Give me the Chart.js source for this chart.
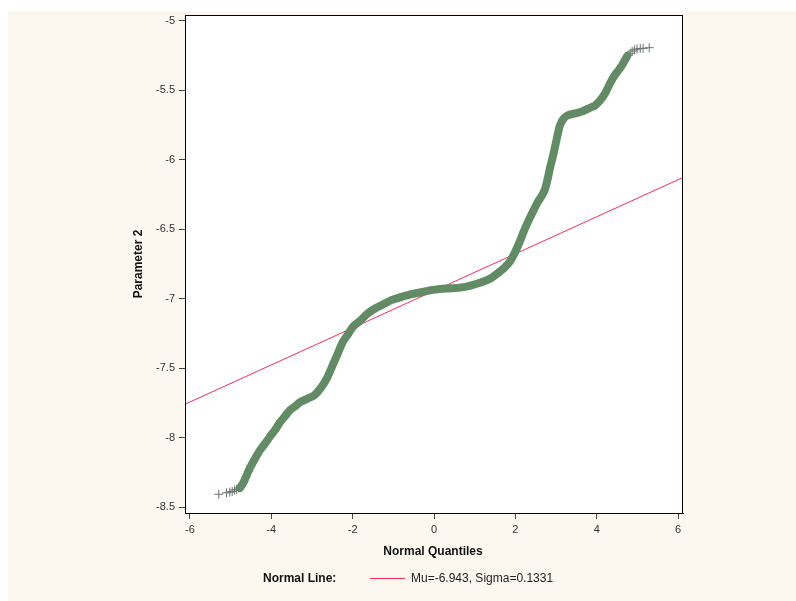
<!DOCTYPE html>
<html>
<head>
<meta charset="utf-8">
<script src="https://cdn.jsdelivr.net/npm/chart.js@4.4.0/dist/chart.umd.min.js"></script>
<style>
  html, body { margin: 0; padding: 0; background: #fff; }
  #wrap { position: absolute; left: 0; top: 0; width: 796px; height: 601px; }
</style>
</head>
<body>
<div id="wrap"><canvas id="qq" width="796" height="601"></canvas></div>
<script>
// quantile pairs (normal quantile, Parameter 2)
const bodyX = [-4.77, -4.70, -4.65, -4.53, -4.40, -4.28, -4.15, -4.03, -3.90, -3.79, -3.65, -3.54, -3.40, -3.30, -3.12,
  -2.93, -2.78, -2.63, -2.48, -2.36, -2.24, -2.10, -1.99, -1.82, -1.65, -1.45, -1.25, -1.05, -0.84, -0.60, -0.34, -0.10,
  0.15, 0.40, 0.64, 0.90, 1.13, 1.35, 1.55, 1.72, 1.87, 2.00, 2.12, 2.20, 2.29, 2.42, 2.56, 2.65, 2.73, 2.80, 2.85,
  2.92, 2.98, 3.04, 3.10, 3.20, 3.30, 3.50, 3.67, 3.85, 3.96, 4.08, 4.21, 4.33, 4.45, 4.58, 4.68, 4.75];
const bodyY = [-8.36, -8.33, -8.30, -8.22, -8.15, -8.09, -8.04, -7.99, -7.94, -7.89, -7.84, -7.80, -7.77, -7.745, -7.72,
  -7.69, -7.64, -7.57, -7.47, -7.39, -7.31, -7.25, -7.20, -7.16, -7.11, -7.07, -7.04, -7.01, -6.99, -6.97, -6.955, -6.94,
  -6.93, -6.925, -6.92, -6.905, -6.885, -6.86, -6.82, -6.78, -6.73, -6.66, -6.58, -6.52, -6.46, -6.38, -6.30, -6.26, -6.21, -6.13, -6.06,
  -5.98, -5.90, -5.82, -5.75, -5.70, -5.68, -5.665, -5.65, -5.625, -5.61, -5.575, -5.52, -5.45, -5.39, -5.34, -5.29, -5.255];

// sparse tails where single + markers are visible
const tailX = [-5.29, -5.10, -5.02, -4.96, -4.90, -4.85, -4.80, -4.74, -4.68, -4.62, -4.56, -4.50,
  4.62, 4.70, 4.77, 4.82, 4.87, 4.93, 4.99, 5.07, 5.14, 5.29];
const tailY = [-8.405, -8.395, -8.39, -8.385, -8.375, -8.37, -8.36, -8.345, -8.32, -8.28, -8.24, -8.20,
  -5.32, -5.28, -5.25, -5.235, -5.22, -5.21, -5.205, -5.20, -5.20, -5.195];

// normal reference line end points (Mu=-6.943, Sigma=0.1331)
const lineX = [-6.12, 6.12];
const lineY = [-7.758, -6.128];

const xTicks = [-6, -4, -2, 0, 2, 4, 6];
const yTicks = [-8.5, -8, -7.5, -7, -6.5, -6, -5.5, -5];

const pts = (xs, ys) => xs.map((x, i) => ({ x: x, y: ys[i] }));

const framePlugin = {
  id: 'frame',
  beforeDraw(chart) {
    const c = chart.ctx, a = chart.chartArea;
    c.save();
    c.fillStyle = '#ffffff';
    c.fillRect(0, 0, chart.width, chart.height);
    c.fillStyle = '#fcf8ef';
    c.fillRect(8, 11, chart.width - 8, chart.height - 11);
    c.fillStyle = '#ffffff';
    c.fillRect(a.left, a.top, a.right - a.left, a.bottom - a.top);
    c.restore();
  },
  afterDraw(chart) {
    const c = chart.ctx, a = chart.chartArea;
    c.save();
    c.strokeStyle = '#000';
    c.lineWidth = 1;
    c.strokeRect(a.left + 0.5, a.top + 0.5, a.right - a.left - 1, a.bottom - a.top);

    c.fillStyle = '#111';
    c.font = 'bold 12px "Liberation Sans", Arial, sans-serif';
    c.textAlign = 'center';
    c.textBaseline = 'middle';
    c.fillText('Normal Quantiles', (a.left + a.right) / 2 - 1, 552);
    c.save();
    c.translate(139, (a.top + a.bottom) / 2);
    c.rotate(-Math.PI / 2);
    c.fillText('Parameter 2', 0, 0);
    c.restore();

    // legend row
    c.textAlign = 'left';
    c.fillText('Normal Line:', 263, 579);
    const ds = chart.data.datasets[2];
    c.strokeStyle = ds.borderColor;
    c.beginPath();
    c.moveTo(370, 578.5);
    c.lineTo(405, 578.5);
    c.stroke();
    c.font = '12px "Liberation Sans", Arial, sans-serif';
    c.fillStyle = '#222';
    c.fillText(ds.label, 411, 579);
    c.restore();
  }
};

new Chart(document.getElementById('qq'), {
  type: 'scatter',
  data: {
    datasets: [
      {
        label: 'quantiles',
        data: pts(bodyX, bodyY),
        showLine: true,
        borderColor: '#5e8d61',
        borderWidth: 8,
        borderCapStyle: 'round',
        borderJoinStyle: 'round',
        tension: 0.3,
        pointStyle: 'cross',
        pointRadius: 4,
        pointBorderColor: '#6f8571',
        pointBorderWidth: 1
      },
      {
        label: 'tails',
        data: pts(tailX, tailY),
        showLine: false,
        pointStyle: 'cross',
        pointRadius: 4.5,
        pointBorderColor: '#6a756b',
        pointBorderWidth: 1
      },
      {
        label: 'Mu=-6.943, Sigma=0.1331',
        data: pts(lineX, lineY),
        showLine: true,
        borderColor: '#f42d5c',
        borderWidth: 1,
        pointRadius: 0
      }
    ]
  },
  options: {
    responsive: false,
    animation: false,
    events: [],
    layout: { padding: { top: 15, right: 113, left: 0, bottom: 0 } },
    plugins: { legend: { display: false }, tooltip: { enabled: false } },
    scales: {
      x: {
        type: 'linear',
        min: -6.12,
        max: 6.12,
        afterBuildTicks: s => { s.ticks = xTicks.map(v => ({ value: v })); },
        afterFit: s => { s.height = 88; },
        grid: { drawOnChartArea: false, drawTicks: true, tickLength: 6, color: '#444' },
        border: { display: true, color: '#000' },
        ticks: { color: '#333', padding: 4, callback: v => String(v), font: { size: 11, family: '"Liberation Sans", Arial, sans-serif' } }
      },
      y: {
        type: 'linear',
        min: -8.54,
        max: -4.96,
        afterBuildTicks: s => { s.ticks = yTicks.map(v => ({ value: v })); },
        afterFit: s => { s.width = 185; },
        grid: { drawOnChartArea: false, drawTicks: true, tickLength: 6, color: '#444' },
        border: { display: true, color: '#000' },
        ticks: { color: '#333', padding: 4, callback: v => String(v), font: { size: 11, family: '"Liberation Sans", Arial, sans-serif' } }
      }
    }
  },
  plugins: [framePlugin]
});
</script>
</body>
</html>
